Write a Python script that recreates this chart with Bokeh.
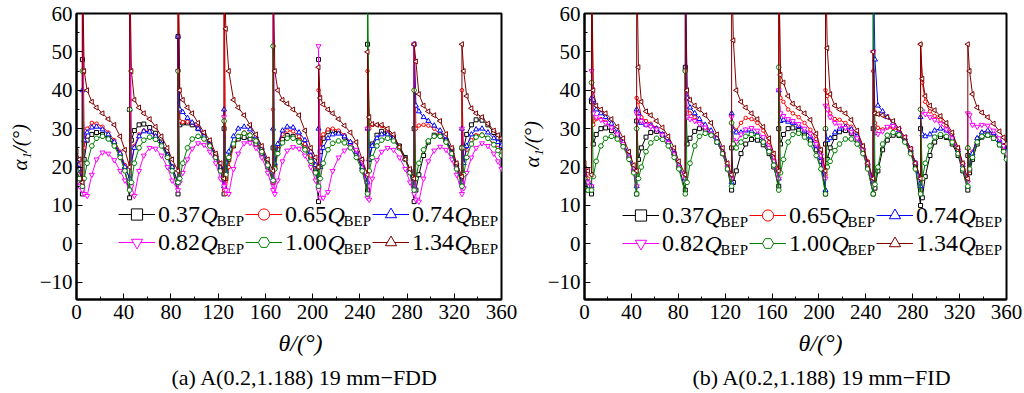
import math
from bokeh.plotting import figure
from bokeh.layouts import row
from bokeh.models import Range1d, FixedTicker, Label, Legend, LegendItem, Title
from bokeh.embed import file_html
from bokeh.resources import INLINE

FONT = "Liberation Serif"

# ---------------- data: panel (a) 19 mm-FDD ----------------
theta_a = [0, 2.5,
           5, 5, 6.5, 9, 13, 17, 22, 27, 32, 37, 41,
           45, 45, 46.5, 49, 53, 57, 62, 67, 72, 77, 81,
           86, 86, 87.5, 90, 94, 98, 103, 108, 113, 118, 122,
           125, 125, 126.5, 129, 133, 137, 142, 147, 152, 157, 162,
           166.5, 166.5, 168, 170.5, 174.5, 178.5, 183.5, 188.5, 193.5, 198.5, 202.5,
           205, 205, 206.5, 209, 213, 217, 222, 227, 232, 237, 242,
           246.5, 246.5, 248, 250.5, 254.5, 258.5, 263.5, 268.5, 273.5, 278.5, 282.5,
           286, 286, 287.5, 290, 294, 298, 303, 308, 313, 318, 322,
           326.5, 326.5, 328, 330.5, 334.5, 338.5, 343.5, 348.5, 353.5, 357, 360]

a_q037 = [19, 17,
          13, 48, 22, 27, 28.5, 29, 28.5, 27.5, 26, 23, 19.5,
          12, 35, 27, 29.5, 31, 31.2, 30.3, 28.8, 26.5, 23.3, 20,
          13, 54, 31, 31.5, 31.5, 31, 30, 28.3, 26, 23, 19.5,
          13, 30, 17, 22, 25.5, 27.3, 27.7, 27.3, 26, 23.5, 20,
          16, 25, 20, 24.5, 27.2, 28.2, 28, 27, 25, 22.5, 19.5,
          11, 48, 24, 27.5, 29.2, 29.5, 29, 27.8, 26, 23.5, 19.5,
          14, 52, 22, 26, 28.3, 29.3, 29, 27.8, 25.5, 22.5, 19,
          11, 30, 14, 18, 23, 26.5, 28.3, 28.3, 27, 24.5, 20.5,
          16, 25, 25, 28.5, 31, 32.3, 32.2, 31, 29, 27.5, 26]
a_q065 = [21, 19,
          15, 75, 25, 30, 31.5, 31.3, 30.5, 29, 27, 24, 20.5,
          17, 75, 21, 25.5, 28.5, 29.5, 29.3, 28, 26, 23, 20,
          16, 75, 32, 31.7, 31.8, 31.5, 30.5, 28.5, 26, 23, 20,
          14, 75, 13, 20, 25.5, 28, 29, 28.5, 27, 24.5, 21,
          16, 35, 20, 25.5, 28.5, 29.5, 29.3, 28, 26, 23, 20,
          17, 40, 25, 28.5, 29.8, 30, 29.5, 28.3, 26.5, 24, 20,
          16, 45, 30, 31, 31, 30.7, 29.5, 27.8, 25, 22, 19,
          15, 52, 30, 30.8, 31, 30.8, 30, 28.5, 26.5, 23.5, 20,
          17, 40, 22, 24.5, 27, 28.3, 28.5, 27.5, 26, 25, 24]
a_q074 = [21.5, 19.5,
          15, 40, 27, 29, 30.3, 30.5, 29.8, 28.5, 26.5, 23.5, 20,
          17, 35, 21, 25, 28, 29.3, 29.2, 28, 26, 23, 20,
          16, 54, 35, 34.3, 32.8, 31.6, 30, 28, 25.8, 23, 20,
          15, 35, 19, 24, 28, 30, 30.5, 29.8, 28, 25, 21,
          17, 30, 21, 26, 29.5, 30.5, 30.3, 29, 27, 24, 20.5,
          15, 30, 20, 25, 27.5, 28.5, 28.7, 28, 26.5, 24, 20,
          16, 30, 22, 25.5, 27.5, 28.5, 28.5, 27.5, 25, 22, 19,
          15, 52, 36, 34.5, 33, 32, 30.8, 29.5, 27, 23.8, 20,
          16, 30, 21, 25.5, 28.5, 29.8, 30, 29, 27.5, 26.5, 25.5]
a_q082 = [17, 15,
          14, 75, 13, 12.5, 18, 22, 23.8, 23.5, 21.8, 19, 16.5,
          14, 75, 15, 12.5, 19, 23, 25, 24.8, 23, 20, 16.5,
          14, 45, 16, 18.5, 22, 24.8, 26.2, 25.8, 24, 21, 17,
          15, 33, 14, 13, 19.5, 23.5, 26.2, 26.3, 25, 22.5, 18.5,
          14, 75, 13, 16.5, 21.5, 24.3, 25.2, 24.8, 23, 20, 16.5,
          14, 51.5, 12, 12, 13.5, 19, 22.5, 24.3, 25.4, 24.5, 21.5,
          12, 30, 11.5, 17, 21.8, 24, 25, 24.5, 22.5, 19.5, 16,
          13, 52, 11.5, 11, 17, 21.5, 24.3, 25.3, 24.5, 22, 18,
          13, 30, 14.5, 18.5, 22.5, 25, 26.2, 25.5, 23.5, 21.5, 19.5]
a_q100 = [19, 17,
          15, 45, 17, 21, 25.5, 27.5, 28, 27.3, 25.5, 22.5, 19,
          14, 35, 16, 21, 25, 27, 27.8, 27.2, 25.5, 22.5, 19,
          16, 45, 17, 21, 25, 27.3, 28, 27.3, 25.5, 22.5, 19,
          17, 32, 18, 22.5, 26, 28, 28.8, 28.3, 26.8, 24, 20.5,
          16.5, 51.5, 19.5, 23.5, 26.3, 27.5, 27.5, 26.5, 24.5, 21.5, 18.5,
          15, 20, 17, 21, 24.5, 26.2, 26.8, 26.3, 25, 22.5, 19,
          13, 75, 19, 22.5, 25.5, 27, 27.5, 26.8, 25, 22, 18.5,
          14, 40, 17, 21, 24.5, 26.8, 28, 28, 26.5, 23.5, 19.5,
          15, 25, 18, 22.5, 26, 27.8, 28.3, 27.5, 25.8, 24.3, 23]
a_q134 = [24, 22,
          16, 75, 45, 40, 37, 35.5, 34, 32.5, 31, 28, 24.5,
          20, 75, 45, 37.5, 35.5, 34, 32.5, 30.5, 28, 25, 22,
          19, 75, 40, 37.5, 35.5, 34, 31.5, 29, 27, 23.5, 21,
          17, 75, 56, 45, 37.5, 35.5, 33.5, 31, 28.5, 25.5, 22,
          19, 75, 45, 40, 37.5, 36.5, 35, 33.5, 29.5, 25, 22.5,
          20, 46, 38, 36.3, 35, 34, 32.5, 30.8, 29, 26.5, 22,
          18, 50, 33, 31.2, 31, 31, 30, 28.5, 25.2, 22, 19.5,
          17, 52, 47.5, 39, 36, 34.5, 33.5, 32, 28.6, 25, 21,
          17.5, 52, 45, 38.5, 35.3, 34, 33, 31.3, 29.5, 28.3, 27.5]

# ---------------- data: panel (b) 19 mm-FID ----------------
theta_b = [0, 3,
           6, 6, 7.5, 10, 14, 18, 23, 28, 33, 38, 42,
           44.5, 44.5, 46, 48.5, 52.5, 56.5, 61.5, 66.5, 71.5, 76.5, 80.5,
           86, 86, 87.5, 90, 94, 98, 103, 108, 113, 118, 122,
           125.5, 125.5, 127, 129.5, 133.5, 137.5, 142.5, 147.5, 152.5, 157.5, 161.5,
           165.7, 165.7, 167.2, 169.7, 173.7, 177.7, 182.7, 187.7, 192.7, 197.7, 201.7,
           205.6, 205.6, 207.1, 209.6, 213.6, 217.6, 222.6, 227.6, 232.6, 237.6, 241.6,
           246.3, 246.3, 247.8, 250.3, 254.3, 258.3, 263.3, 268.3, 273.3, 278.3, 282.3,
           286.7, 286.7, 288.2, 290.7, 294.7, 298.7, 303.7, 308.7, 313.7, 318.7, 322.7,
           327, 327, 328.5, 331, 335, 339, 344, 349, 354, 357.5, 360]

b_q037 = [18, 14,
          13, 37, 26, 28.5, 30, 30.2, 29.5, 28, 25.8, 22.5, 19,
          13, 32, 22, 25, 27.8, 29, 29.3, 28.5, 26.5, 23.5, 20,
          14, 46, 26, 27.5, 29.3, 30, 29.8, 28.5, 26.5, 23.5, 19.5,
          14, 25, 16, 19, 23.5, 26, 27.2, 27, 25.8, 23.5, 20,
          15, 30, 26, 28.5, 30, 30.2, 29.5, 28.3, 26.8, 24.5, 21.5,
          13, 26, 22, 25, 27.7, 29.2, 29.5, 28.8, 27, 24, 20,
          13, 30, 14.5, 19, 24.5, 27, 28.3, 28.2, 26.8, 24, 20,
          10, 30, 12, 17.5, 23, 26.5, 28, 27.7, 26, 23, 19,
          14, 23, 18.5, 22, 26, 27.8, 28.3, 27.5, 25.8, 24.2, 22.5]
b_q065 = [20, 17,
          15, 75, 31, 32.5, 32.5, 31.8, 30.5, 28.5, 26, 22.5, 19.5,
          15, 38, 37, 33, 32, 31.3, 30.2, 28.5, 26.5, 23.5, 20.5,
          17, 45, 35, 34, 33, 32, 30.8, 29, 27, 23.5, 20,
          17, 33.5, 30, 29.5, 31.5, 32.8, 32.5, 31.5, 29.5, 26.5, 22.5,
          17, 75, 38, 37, 35, 34, 33, 31.5, 29.7, 27.3, 24,
          18, 40, 38.5, 34, 32.5, 32.3, 31.5, 30.5, 28.7, 25.5, 21.5,
          16, 45, 31.5, 30.2, 29.8, 30.2, 30.2, 29.3, 27.5, 24.5, 21,
          17, 52, 42, 37, 34.5, 33.3, 32.3, 30.8, 28.5, 25, 21,
          15, 25, 19, 24, 27.5, 29, 29.3, 28.5, 26.8, 25, 23.5]
b_q074 = [19, 16,
          15, 38, 37.5, 35, 34, 33, 31.3, 29, 26.5, 23, 19.5,
          15, 35, 34, 31.5, 31, 30.8, 30, 28.5, 26.5, 23.5, 20.5,
          17, 75, 38, 35.5, 34, 32.5, 31, 29.5, 27.5, 24, 20.5,
          16, 34, 29.5, 29, 29, 29.5, 29.3, 28.5, 27, 24.5, 21,
          17, 40, 32, 32.3, 31.8, 31.5, 30.7, 29.5, 28, 25.5, 22.5,
          14, 30, 27, 27.5, 29, 30, 30.5, 29.8, 28, 25, 21,
          16, 75, 48, 36, 34.5, 33, 31.5, 29.5, 27.5, 24.5, 21,
          15, 33, 28.5, 28, 28.5, 29.5, 30, 29.5, 27.5, 24.3, 20.5,
          15, 25, 19.5, 23.5, 27.5, 29, 29.5, 28.8, 27, 25.5, 24]
b_q082 = [19, 16,
          15, 45, 34, 33, 32.3, 31.5, 30.3, 28.5, 26, 22.5, 19,
          15, 34, 33, 32, 31, 30.5, 29.8, 28.3, 26.3, 23.3, 20,
          17, 45, 33, 32.5, 32, 31.3, 30.3, 28.7, 26.5, 23.5, 20,
          17, 33, 27, 26.5, 28.5, 29.8, 30.2, 29.5, 27.8, 25, 21.5,
          17, 40, 34, 33.3, 32.5, 32, 31.2, 30, 28.7, 26, 23,
          17, 36, 35, 33, 31.5, 30.8, 30.2, 29.2, 27.5, 24.5, 20.5,
          15, 50, 29, 28.6, 29.3, 30.5, 30.7, 29.8, 27.8, 24.7, 21,
          17, 35, 34.5, 33.8, 33, 32.3, 31.3, 29.8, 27.5, 24.3, 20.5,
          16, 34, 33.5, 31, 30.5, 31, 30.8, 29.5, 27.5, 25.5, 23.5]
b_q100 = [17, 14,
          14, 42, 17.5, 21.5, 25.5, 27.5, 28, 27.3, 25.3, 22, 18.5,
          13, 30, 17, 20, 24, 26.3, 27.5, 27.2, 25.5, 22.5, 19.5,
          13, 45, 16, 21, 25.5, 28, 28.8, 28.3, 26.5, 23.5, 19.5,
          15, 31.5, 26, 25, 26.5, 28, 28.5, 28, 26.5, 24, 20.5,
          14, 46, 18.5, 22, 26.5, 28.5, 28.8, 27.8, 26, 23, 19.5,
          13, 30, 20, 21.5, 24.3, 26, 27.3, 27.3, 26, 23.5, 19.5,
          13, 75, 15.5, 20, 26, 28.3, 29, 28.4, 26.5, 23.5, 19.5,
          13, 35, 17, 21, 25.5, 27.8, 28.5, 28, 26.5, 23.5, 19.5,
          15, 25, 19.5, 22.5, 26.5, 28, 28.3, 27.5, 25.8, 24, 22]
b_q134 = [21, 19,
          18, 75, 40, 36, 35, 34, 32.5, 30.5, 27.5, 24, 20.5,
          19, 75, 46, 37, 34.5, 33.5, 32, 30.3, 28, 25, 21.5,
          18, 75, 40, 37.5, 36, 35, 33.5, 31.5, 28.5, 25, 21,
          18, 75, 53, 40, 37, 35.5, 34, 32.5, 30.5, 27.5, 23.5,
          19, 75, 44, 42, 38.5, 36.5, 35.3, 34, 32.3, 28.7, 24.5,
          19, 75, 51, 39, 36, 35, 34, 32.3, 29.5, 25.5, 21,
          17, 50, 34, 33.8, 33.5, 33, 32, 30, 27.8, 24.8, 21,
          17, 52, 43, 38.5, 36, 34.8, 33.3, 31.5, 29, 25, 21,
          17, 52, 45, 39, 35.5, 34.2, 33, 31.3, 29.3, 27.7, 26]

flow_labels = ["0.37", "0.65", "0.74", "0.82", "1.00", "1.34"]
colors = ["#000000", "#ff0000", "#0000ff", "#ff00ff", "#008000", "#800000"]
markers = ["square", "circle", "triangle", "inverted_triangle", "hex", "triangle"]
marker_angles = [0, 0, 0, 0, 0, math.pi / 2]
marker_sizes = [4, 3.5, 5, 5, 5, 5]

x_ticks = [0, 40, 80, 120, 160, 200, 240, 280, 320, 360]
x_minor = [20, 60, 100, 140, 180, 220, 260, 300, 340]
y_ticks = [-10, 0, 10, 20, 30, 40, 50, 60]
y_minor = [-5, 5, 15, 25, 35, 45, 55]


def add_label(p, x, y, text, size, style="normal"):
    p.add_layout(Label(x=x, y=y, x_units="screen", y_units="screen", text=text,
                       text_font=FONT, text_font_size=f"{size}px", text_font_style=style,
                       text_color="black", text_align="left", text_baseline="middle"))


def make_panel(theta, series, caption, width, left, right, legend_x, legend_y, row_y,
               ylab_off, ylab_standoff, xlab_off, cap_off):
    p = figure(width=width, height=393, output_backend="svg", toolbar_location=None,
               x_range=Range1d(0, 360), y_range=Range1d(-14.5, 60),
               min_border_left=left, min_border_right=right,
               min_border_top=13, min_border_bottom=94)
    p.xgrid.visible = False
    p.ygrid.visible = False
    p.outline_line_color = "black"
    p.outline_line_width = 2
    p.outline_line_alpha = 1
    p.xaxis.ticker = FixedTicker(ticks=x_ticks, minor_ticks=x_minor)
    p.yaxis.ticker = FixedTicker(ticks=y_ticks, minor_ticks=y_minor)
    for ax in (p.xaxis[0], p.yaxis[0]):
        ax.axis_line_width = 2
        ax.major_tick_in = 6
        ax.major_tick_out = 0
        ax.minor_tick_in = 3
        ax.minor_tick_out = 0
        ax.major_tick_line_width = 1
        ax.minor_tick_line_width = 1
        ax.major_label_text_font = FONT
        ax.major_label_text_font_size = "21px"
        ax.major_label_text_color = "black"
    p.xaxis.major_label_standoff = 5
    p.yaxis.major_label_standoff = 4

    items = []
    for vals, lab, col, mk, ang, ms in zip(series, flow_labels, colors, markers,
                                            marker_angles, marker_sizes):
        ln = p.line(theta, vals, line_color=col, line_width=1)
        sc = p.scatter(theta, vals, marker=mk, angle=ang, size=ms, line_color=col,
                       fill_color="white", line_width=1)
        items.append(LegendItem(label=lab, renderers=[ln, sc]))

    leg = Legend(items=items, location=(legend_x, legend_y), orientation="horizontal", ncols=3,
                 glyph_width=37, glyph_height=28, label_height=28, label_width=87,
                 label_standoff=3, spacing=0, padding=0, margin=0,
                 border_line_alpha=0, background_fill_alpha=0,
                 label_text_font=FONT, label_text_font_size="24px", label_text_color="black")
    p.add_layout(leg, "center")

    # Q_BEP suffixes of legend labels
    col_x = [legend_x + 40 + 42 + k * 127 for k in range(3)]
    for r in range(2):
        for c in range(3):
            add_label(p, col_x[c], row_y[r], "Q", 24, style="italic")
            add_label(p, col_x[c] + 16, row_y[r] - 6, "BEP", 15)

    # axis titles and caption
    p.add_layout(Title(text="α\u2081/(°)", align="left", offset=ylab_off, standoff=ylab_standoff,
                       text_font=FONT, text_font_size="21px", text_font_style="italic",
                       text_color="black"), "left")
    p.add_layout(Title(text="θ/(°)", align="left", offset=xlab_off, standoff=12,
                       text_font=FONT, text_font_size="24px", text_font_style="italic",
                       text_color="black"), "below")
    p.add_layout(Title(text=caption, align="left", offset=cap_off, standoff=3,
                       text_font=FONT, text_font_size="22px", text_font_style="normal",
                       text_color="black"), "below")
    return p


p1 = make_panel(theta_a, [a_q037, a_q065, a_q074, a_q082, a_q100, a_q134],
                "(a) A(0.2,1.188) 19 mm−FDD", 517, 76, 16,
                42, 43, [85, 57], 129, 10, 202, 95)
p2 = make_panel(theta_b, [b_q037, b_q065, b_q074, b_q082, b_q100, b_q134],
                "(b) A(0.2,1.188) 19 mm−FID", 507, 67, 18,
                38, 42, [84, 56], 132, 1, 214, 108)

layout = row(p1, p2)
open("out.html", "w").write(file_html(layout, INLINE))
